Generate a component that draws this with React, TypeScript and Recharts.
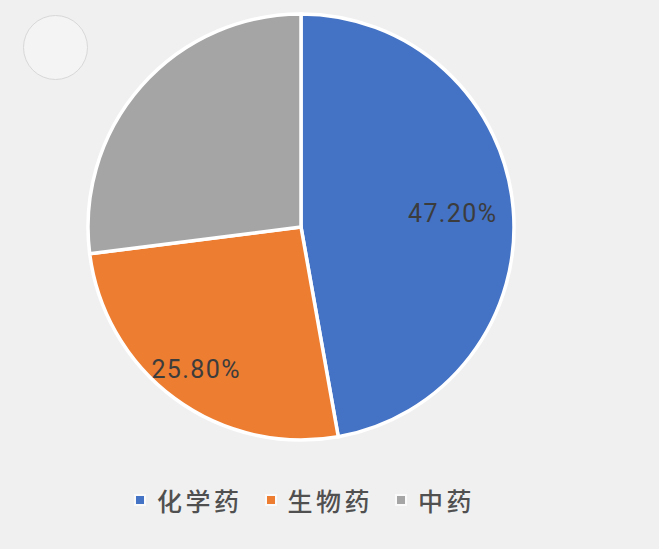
import React from "react";
import { PieChart, Pie, Cell } from "recharts";

const categories = ["化学药", "生物药", "中药"];
const shares = [47.2, 25.8, 27.0];
const labelTexts = ["47.20%", "25.80%", ""];
const colors = ["#4472C4", "#ED7D31", "#A5A5A5"];

const data = categories.map((name, i) => ({ name, value: shares[i], label: labelTexts[i] }));

const RAD = Math.PI / 180;
// labels sit at slightly different depths inside the slices
const labelDepth = [0.715, 0.83, 0.7];

const renderLabel = (props: any) => {
  const { cx, cy, midAngle, outerRadius, index } = props;
  const text = data[index].label;
  if (!text) return null;
  const r = outerRadius * labelDepth[index];
  const x = cx + r * Math.cos(-midAngle * RAD);
  const y = cy + r * Math.sin(-midAngle * RAD);
  return (
    <text
      x={x}
      y={y}
      fill="#3c3c3c"
      textAnchor="middle"
      dominantBaseline="central"
      style={{ fontFamily: "Roboto, sans-serif", fontSize: 25, letterSpacing: 1.4 }}
    >
      {text}
    </text>
  );
};

const Legend = () => (
  <div
    style={{
      position: "absolute",
      top: 482,
      left: 136,
      display: "flex",
      alignItems: "center",
      fontFamily: "'Noto Sans CJK SC', sans-serif",
      fontSize: 25,
      fontWeight: 500,
      letterSpacing: 3.5,
      color: "#505050",
    }}
  >
    {categories.map((c, i) => (
      <span key={c} style={{ display: "flex", alignItems: "center", marginRight: 24 }}>
        <span
          style={{
            width: 8,
            height: 8,
            background: colors[i],
            outline: "2px solid #fafafa",
            marginRight: 13,
          }}
        />
        {c}
      </span>
    ))}
  </div>
);

export default function App() {
  return (
    <div
      style={{
        position: "fixed",
        top: 0,
        left: 0,
        width: 659,
        height: 549,
        background: "#f0f0f1",
        overflow: "hidden",
      }}
    >
      <div
        style={{
          position: "absolute",
          left: 23,
          top: 15,
          width: 63,
          height: 63,
          borderRadius: "50%",
          border: "1px solid #d8d8d8",
          background: "#f4f4f5",
        }}
      />
      <PieChart
        width={659}
        height={470}
        margin={{ top: 0, right: 0, bottom: 0, left: 0 }}
        style={{ position: "absolute", top: 0, left: 0 }}
      >
        <Pie
          data={data}
          dataKey="value"
          nameKey="name"
          cx={301}
          cy={227}
          outerRadius={213}
          startAngle={90}
          endAngle={-270}
          stroke="#ffffff"
          strokeWidth={3.5}
          label={renderLabel}
          labelLine={false}
          isAnimationActive={false}
        >
          {data.map((d, i) => (
            <Cell key={d.name} fill={colors[i]} />
          ))}
        </Pie>
      </PieChart>
      <Legend />
    </div>
  );
}
